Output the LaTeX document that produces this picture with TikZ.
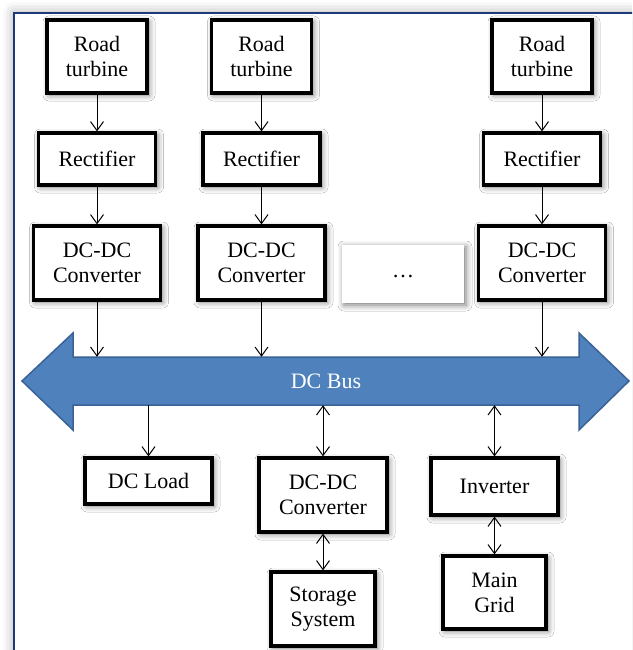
\documentclass[tikz,border=0pt]{standalone}
\usepackage{fontspec}
\setmainfont{Liberation Serif}
\newfontfamily\boxfont{Liberation Serif}
\usetikzlibrary{arrows.meta, shadows.blur}
\definecolor{busFill}{HTML}{4F81BD}
\definecolor{busEdge}{HTML}{3A6296}
\definecolor{frameNavy}{HTML}{1F3A7A}

\begin{document}
\begin{tikzpicture}[x=1pt, y=-1pt, font=\boxfont\fontsize{22}{25}\selectfont,
  halo/.style={blur shadow={shadow xshift=2pt, shadow yshift=-2pt, shadow blur radius=6pt, shadow opacity=55}},
  blk/.style={draw=black, fill=white, line width=3.2pt, align=center, inner sep=0pt, halo},
  gap/.style={fill=white, inner sep=0pt, halo},
  flow/.style={-{Straight Barb[length=9pt,width=13pt]}, line width=1pt},
  both/.style={{Straight Barb[length=9pt,width=13pt]}-{Straight Barb[length=9pt,width=13pt]}, line width=1pt}]
\useasboundingbox (0,0) rectangle (632,650);
\clip (0,0) rectangle (632,650);
% page frame
\draw[frameNavy, fill=white, line width=1.6pt, blur shadow={shadow xshift=0pt, shadow yshift=0pt, shadow blur radius=11pt, shadow opacity=35}] (14,13) rectangle (680,700);
% generation chains
\foreach \i/\x in {1/97, 2/261.5, 3/542}{
  \node[blk, minimum width=100pt, minimum height=73pt] (rt\i) at (\x,56.5) {Road\\turbine};
  \node[blk, minimum width=117pt, minimum height=52pt] (rec\i) at (\x,159) {Rectifier};
  \node[blk, minimum width=127pt, minimum height=74pt] (dcdc\i) at (\x,263) {DC-DC\\Converter};
}
\node[gap, minimum width=122pt, minimum height=58pt] (more) at (403,274) {\raisebox{-7pt}{\ldots}};
% DC bus
\fill[busFill, draw=busEdge, line width=1.5pt] (22,381) -- (73,333) -- (73,357) -- (579,357) -- (579,333) -- (629,381)
  -- (579,430) -- (579,405) -- (73,405) -- (73,430) -- cycle;
\node[text=white, minimum width=506pt, minimum height=48pt, inner sep=0pt] (bus) at (326,381) {DC Bus};
% loads and storage
\node[blk, minimum width=127pt, minimum height=46pt] (load) at (148.5,481) {DC Load};
\node[blk, minimum width=128pt, minimum height=74pt] (dcdcs) at (323,495) {DC-DC\\Converter};
\node[blk, minimum width=104pt, minimum height=74pt] (stor) at (323,609) {Storage\\System};
\node[blk, minimum width=127pt, minimum height=57pt] (inv) at (494.5,486.5) {Inverter};
\node[blk, minimum width=103pt, minimum height=73pt] (grid) at (494.5,592.5) {Main\\Grid};
\foreach \i in {1,2,3}{
  \draw[flow] (rt\i) -- (rec\i);
  \draw[flow] (rec\i) -- (dcdc\i);
  \draw[flow] (dcdc\i) -- (dcdc\i |- bus.north);
}
\draw[flow] (load.north |- bus.south) -- (load);
\draw[both] (dcdcs.north |- bus.south) -- (dcdcs);
\draw[both] (dcdcs) -- (stor);
\draw[both] (inv.north |- bus.south) -- (inv);
\draw[both] (inv) -- (grid);
\end{tikzpicture}
\end{document}
